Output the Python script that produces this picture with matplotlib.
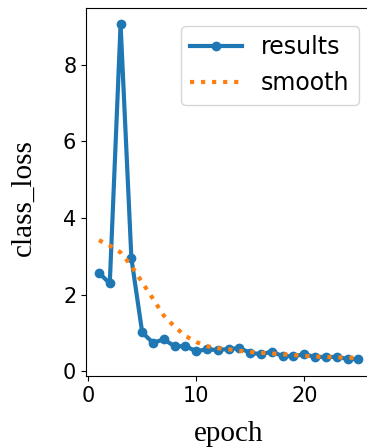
import matplotlib
matplotlib.use("Agg")
import matplotlib.pyplot as plt

epochs = list(range(1, 26))
class_loss = [2.57, 2.29, 9.06, 2.95, 1.01, 0.74, 0.83, 0.65, 0.65, 0.52,
              0.57, 0.55, 0.58, 0.60, 0.48, 0.44, 0.51, 0.39, 0.39, 0.44,
              0.37, 0.37, 0.37, 0.32, 0.31]
smooth = [3.42, 3.28, 3.10, 2.75, 2.32, 1.89, 1.45, 1.16, 0.92, 0.76,
          0.65, 0.60, 0.57, 0.53, 0.50, 0.48, 0.46, 0.44, 0.42, 0.40,
          0.38, 0.37, 0.36, 0.35, 0.35]

fig = plt.figure(figsize=(3.67, 4.48), dpi=100)
ax = fig.add_axes([86 / 367, 72 / 448, 285.3 / 367, 368.4 / 448])

ax.plot(epochs, class_loss, marker=".", markersize=12, linewidth=3, label="results")
ax.plot(epochs, smooth, ":", linewidth=3, label="smooth")

ax.set_xlabel("epoch", family="Liberation Serif", fontsize=21, labelpad=11)
ax.set_ylabel("class_loss", family="Liberation Serif", fontsize=21, labelpad=19)
ax.yaxis.label.set_y(0.484)
ax.tick_params(labelsize=15)
ax.legend(fontsize=17, loc="upper right", bbox_to_anchor=(0.957, 0.95),
          borderaxespad=0, handlelength=2.2)

fig.savefig("out.png", dpi=100)
